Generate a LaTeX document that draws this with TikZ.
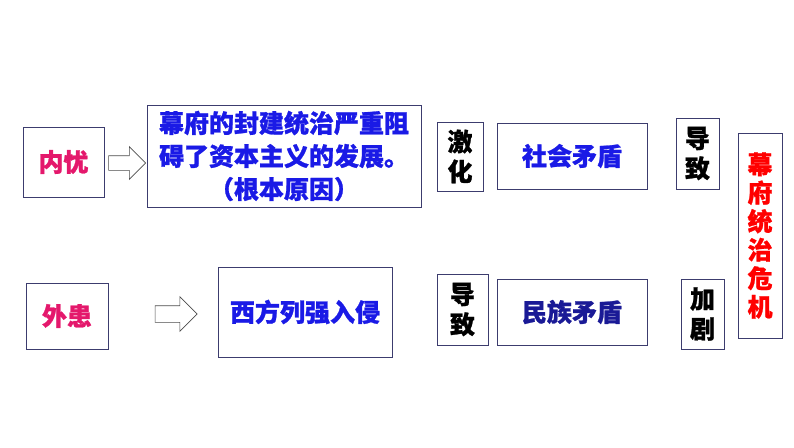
\documentclass[tikz,border=0pt]{standalone}
\usepackage{fontspec}
\newfontfamily\cjk{Noto Sans CJK SC}[BoldFeatures={FakeBold=1}]
\usetikzlibrary{shapes.arrows}

\definecolor{framec}{RGB}{60,60,110}
\definecolor{pinkred}{RGB}{228,24,108}
\definecolor{brightblue}{RGB}{26,26,230}
\definecolor{navyblue}{RGB}{26,26,150}

\begin{document}
\begin{tikzpicture}[
  x=1pt, y=-1pt,
  box/.style={draw=framec, line width=0.8pt, inner sep=0pt,
              font=\cjk\bfseries\fontsize{25}{30}\selectfont, align=center},
  hollow/.style={single arrow, draw=black!70, line width=0.6pt, fill=white,
                 inner xsep=0pt, single arrow head extend=9pt}
]
\useasboundingbox (0,0) rectangle (794,447);

%--- Upper row ---
\node[box, minimum width=81pt,  minimum height=70pt, text=pinkred]
      (neiyou)  at (63.5,162)  {内忧};
\node[box, minimum width=274pt, minimum height=102pt, text=brightblue,
      font=\cjk\bfseries\fontsize{25}{33}\selectfont]
      (cause)   at (284,156)   {幕府的封建统治严重阻\\碍了资本主义的发展。\\（根本原因）};
\node[box, minimum width=46pt,  minimum height=69pt]
      (jihua)   at (460,156.5) {激\\化};
\node[box, minimum width=150pt, minimum height=66pt, text=brightblue]
      (shehui)  at (572,156)   {社会矛盾};
\node[box, minimum width=43pt,  minimum height=71pt]
      (daozhiA) at (697.5,153.5) {导\\致};

%--- Lower row ---
\node[box, minimum width=82pt,  minimum height=66pt, text=pinkred]
      (waihuan) at (67,316)    {外患};
\node[box, minimum width=174pt, minimum height=90pt, text=brightblue]
      (invade)  at (305,312)   {西方列强入侵};
\node[box, minimum width=51pt,  minimum height=71pt]
      (daozhiB) at (462.5,309.5) {导\\致};
\node[box, minimum width=150pt, minimum height=66pt, text=navyblue]
      (minzu)   at (572,312)   {民族矛盾};
\node[box, minimum width=43pt,  minimum height=70pt]
      (jiaju)   at (702.5,314) {加\\剧};

%--- Result ---
\node[box, minimum width=44pt, minimum height=205pt, text=red,
      font=\cjk\bfseries\fontsize{25}{28.5}\selectfont]
      (crisis)  at (760,235.5) {幕\\府\\统\\治\\危\\机};

%--- Hollow arrows ---
\node[hollow, minimum height=37pt, inner ysep=7pt]
      (arrowA) at (123.5,163) {};
\node[hollow, minimum height=42pt, inner ysep=8pt]
      (arrowB) at (172,314)   {};

\end{tikzpicture}
\end{document}
